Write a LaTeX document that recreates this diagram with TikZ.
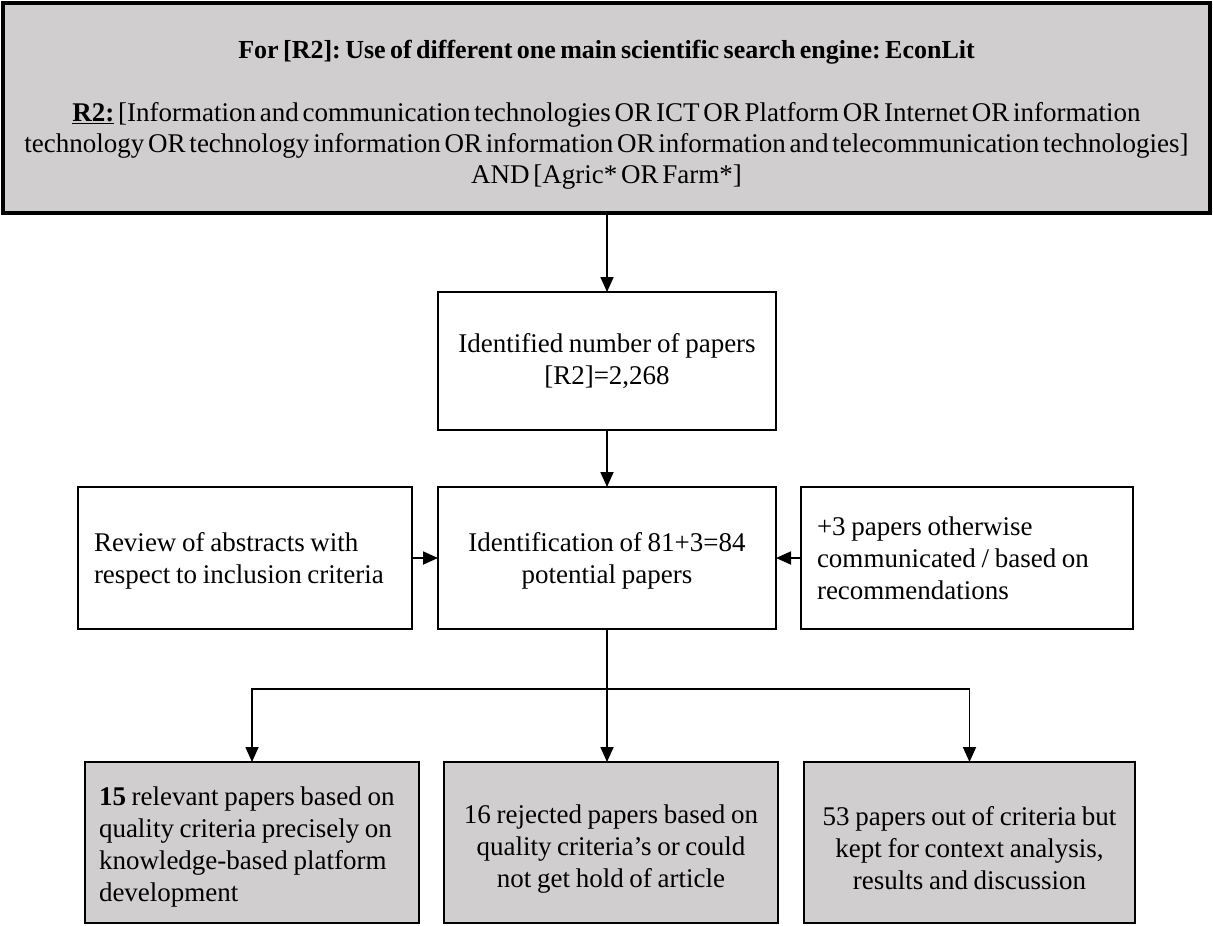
\documentclass[tikz,border=0pt]{standalone}
\usepackage{fontspec}
\setmainfont{Liberation Serif}
\usetikzlibrary{arrows.meta,calc}
\definecolor{boxgray}{HTML}{D0CECE}
% narrow interword spacing, no hyphenation
\newcommand{\tightwords}[1]{\spaceskip=#1em\relax\xspaceskip=#1em\relax\hyphenpenalty=10000\relax}
\begin{document}
\frenchspacing
\begin{tikzpicture}[x=1pt,y=-1pt,
  every node/.style={font=\fontsize{27}{32}\selectfont, inner sep=0pt, outer sep=0pt},
  box/.style={draw=black, line width=2.3pt, anchor=north west, align=flush center,
    execute at begin node=\tightwords{0.21}},
  greybox/.style={box, fill=boxgray},
  % a taller first line pushes the text block down
  lower/.style={execute at begin node={\tightwords{0.21}\rule{0pt}{#1}}},
  link/.style={line width=1.8pt, -{Triangle[length=15pt,width=13pt]}},
  plainlink/.style={line width=1.8pt}
]
\useasboundingbox (0,0) rectangle (1213,926);

% search query box
\node[greybox, line width=3.2pt, minimum width=1207pt, minimum height=210pt, text width=1200pt,
      font=\fontsize{27}{31}\selectfont, execute at begin node={\tightwords{0.14}\rule{0pt}{32pt}}]
  (query) at (3,3)
  {{\fontsize{26}{31}\selectfont\tightwords{0.17}\bfseries For [R2]: Use of different one main scientific search engine: EconLit}\\[32pt]
   \tightwords{0.14}\underline{\textbf{R2:}} [Information and communication technologies OR ICT OR Platform OR Internet OR information\\
   technology OR technology information OR information OR information and telecommunication technologies]\\
   AND [Agric* OR Farm*]};

% identified papers
\node[box, minimum width=338pt, minimum height=138pt, text width=320pt]
  (ident) at (438,292) {Identified number of papers\\{}[R2]=2,268};

% screening row
\node[box, minimum width=334pt, minimum height=142pt, text width=302pt, align=flush left, lower=24pt]
  (review) at (78,487) {Review of abstracts with\\respect to inclusion criteria};
\node[box, minimum width=338pt, minimum height=142pt, text width=320pt, lower=24pt]
  (potential) at (438,487) {Identification of 81+3=84\\potential papers};
\node[box, minimum width=332pt, minimum height=142pt, text width=300pt, align=flush left]
  (extra) at (801,487) {+3 papers otherwise\\communicated / based on\\recommendations};

% outcome row
\node[greybox, minimum width=334pt, minimum height=161pt, text width=306pt, align=flush left, lower=28pt]
  (relevant) at (85,762) {\textbf{15} relevant papers based on\\quality criteria precisely on\\knowledge-based platform\\development};
\node[greybox, minimum width=334pt, minimum height=161pt, text width=320pt, lower=32pt]
  (rejected) at (444,762) {16 rejected papers based on\\quality criteria’s or could\\not get hold of article};
\node[greybox, minimum width=331pt, minimum height=161pt, text width=320pt, lower=30pt]
  (context) at (804,762) {53 papers out of criteria but\\kept for context analysis,\\results and discussion};

% connectors
\draw[link] (query.south -| ident.north) -- (ident.north);
\draw[link] (ident.south) -- (potential.north);
\draw[link] (review.east) -- (potential.west);
\draw[link] (extra.west) -- (potential.east);

\coordinate (split) at ($(potential.south)+(0,60)$);
\draw[plainlink] (potential.south) -- (split);
\draw[link] (split) -| (relevant.north);
\draw[link] (split) -| (context.north);
\draw[link] (split) -- (split |- rejected.north);
\end{tikzpicture}
\end{document}
